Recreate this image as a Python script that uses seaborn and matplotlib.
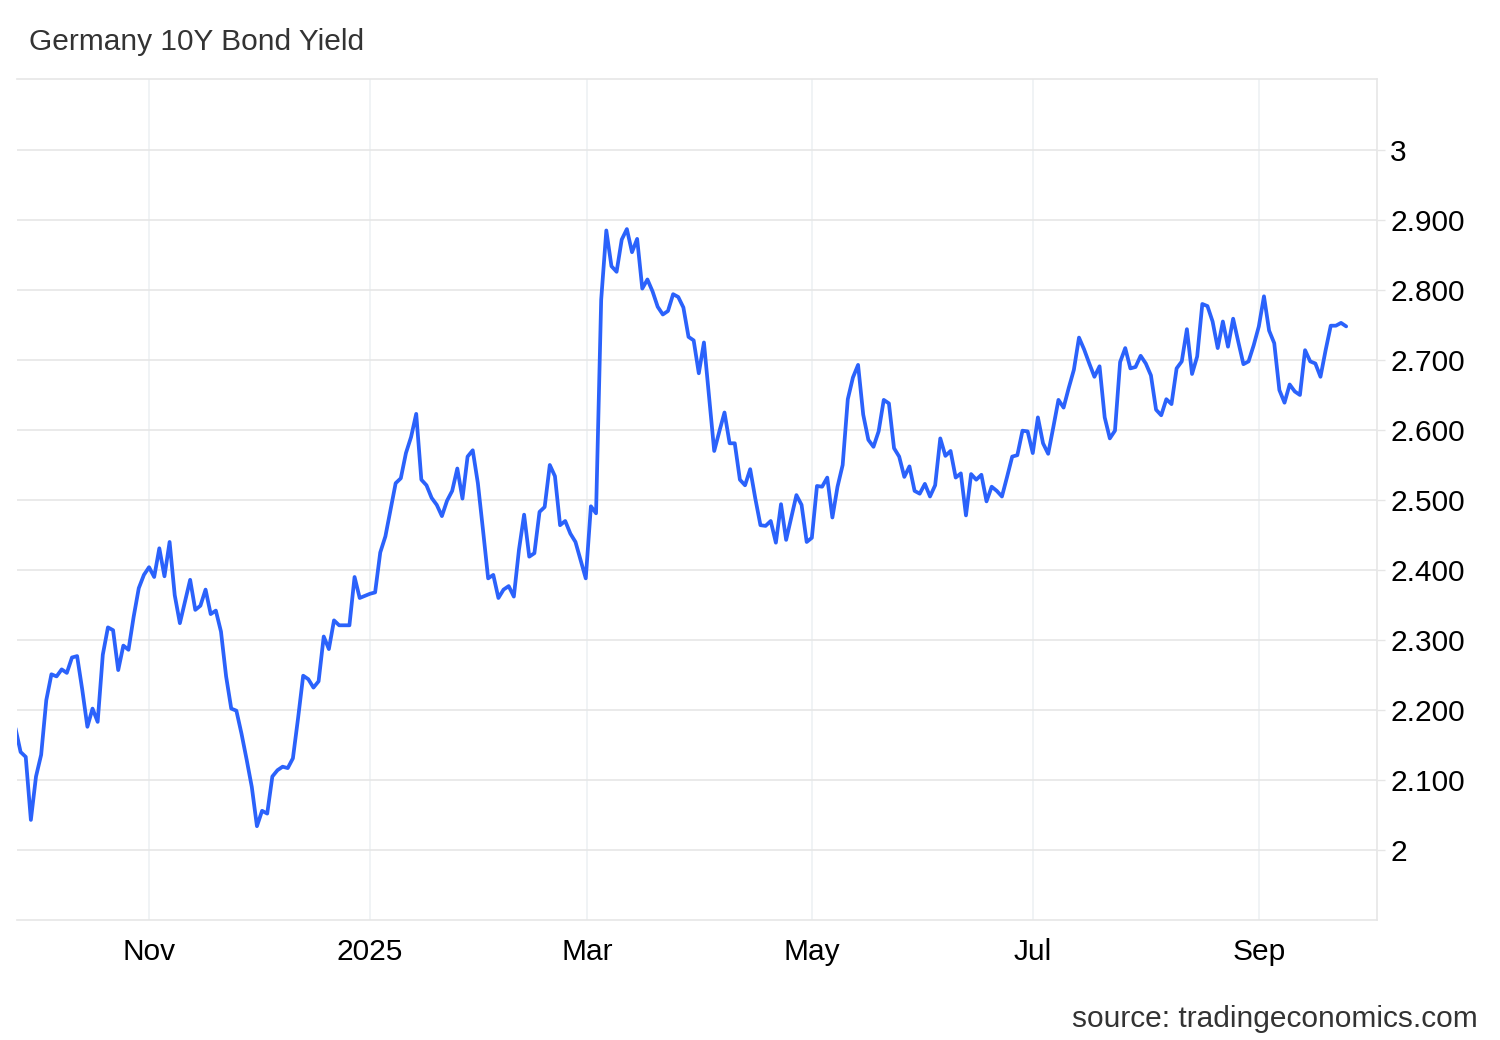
import matplotlib
matplotlib.use("Agg")
import matplotlib.pyplot as plt
import matplotlib.dates as mdates
import matplotlib.ticker as mticker
import numpy as np
import pandas as pd
import seaborn as sns

title = "Germany 10Y Bond Yield"
source = "source: tradingeconomics.com"
start_date = "2024-09-26"

yield_values = [
    2.174, 2.140, 2.133, 2.043, 2.105, 2.136, 2.214, 2.251, 2.248, 2.258,
    2.253, 2.275, 2.277, 2.229, 2.176, 2.202, 2.183, 2.279, 2.318, 2.314,
    2.257, 2.292, 2.286, 2.333, 2.374, 2.393, 2.404, 2.390, 2.431, 2.391,
    2.440, 2.364, 2.324, 2.355, 2.386, 2.343, 2.349, 2.372, 2.337, 2.342,
    2.312, 2.248, 2.202, 2.199, 2.166, 2.129, 2.090, 2.034, 2.056, 2.052,
    2.105, 2.114, 2.119, 2.117, 2.131, 2.188, 2.249, 2.244, 2.232, 2.241,
    2.305, 2.287, 2.328, 2.321, 2.321, 2.321, 2.390, 2.360, 2.363, 2.366,
    2.368, 2.425, 2.448, 2.486, 2.524, 2.531, 2.567, 2.590, 2.623, 2.529,
    2.521, 2.503, 2.493, 2.477, 2.499, 2.513, 2.545, 2.502, 2.562, 2.571,
    2.524, 2.457, 2.388, 2.393, 2.360, 2.372, 2.377, 2.362, 2.429, 2.479,
    2.419, 2.424, 2.483, 2.490, 2.550, 2.534, 2.464, 2.470, 2.452, 2.440,
    2.414, 2.388, 2.491, 2.481, 2.786, 2.885, 2.834, 2.826, 2.872, 2.887,
    2.854, 2.873, 2.802, 2.815, 2.798, 2.776, 2.765, 2.770, 2.794, 2.790,
    2.775, 2.733, 2.728, 2.681, 2.725, 2.648, 2.570, 2.598, 2.625, 2.581,
    2.581, 2.529, 2.521, 2.544, 2.502, 2.464, 2.463, 2.470, 2.439, 2.494,
    2.443, 2.475, 2.507, 2.493, 2.440, 2.446, 2.520, 2.519, 2.532, 2.475,
    2.519, 2.550, 2.644, 2.675, 2.693, 2.622, 2.586, 2.576, 2.598, 2.643,
    2.638, 2.574, 2.562, 2.533, 2.548, 2.513, 2.509, 2.523, 2.505, 2.521,
    2.588, 2.563, 2.570, 2.532, 2.538, 2.478, 2.537, 2.529, 2.536, 2.498,
    2.519, 2.513, 2.505, 2.533, 2.562, 2.564, 2.599, 2.598, 2.567, 2.618,
    2.581, 2.566, 2.604, 2.643, 2.632, 2.660, 2.686, 2.732, 2.715, 2.695,
    2.676, 2.691, 2.618, 2.588, 2.599, 2.697, 2.717, 2.688, 2.690, 2.706,
    2.695, 2.678, 2.629, 2.621, 2.644, 2.637, 2.688, 2.698, 2.744, 2.680,
    2.705, 2.780, 2.777, 2.755, 2.717, 2.755, 2.719, 2.759, 2.726, 2.694,
    2.698, 2.721, 2.748, 2.791, 2.742, 2.724, 2.657, 2.639, 2.665, 2.655,
    2.650, 2.714, 2.698, 2.695, 2.676, 2.714, 2.749, 2.749, 2.753, 2.748,
]

y_ticks = [2.0, 2.1, 2.2, 2.3, 2.4, 2.5, 2.6, 2.7, 2.8, 2.9, 3.0]
y_tick_labels = ["2", "2.100", "2.200", "2.300", "2.400", "2.500",
                 "2.600", "2.700", "2.800", "2.900", "3"]
x_tick_dates = ["2024-11-01", "2025-01-01", "2025-03-01",
                "2025-05-01", "2025-07-01", "2025-09-01"]
x_tick_labels = ["Nov", "2025", "Mar", "May", "Jul", "Sep"]

dates = pd.bdate_range(start_date, periods=len(yield_values))
session = np.arange(len(yield_values))
df = pd.DataFrame({"date": dates, "session": session, "yield": yield_values})

# month boundaries expressed on the trading-session axis
tick_pos = np.interp(mdates.date2num(pd.to_datetime(x_tick_dates)),
                     mdates.date2num(dates), session)

sns.set_theme(style="white")
plt.rcParams["font.family"] = ["Liberation Sans", "DejaVu Sans"]

fig = plt.figure(figsize=(15, 10.4), dpi=100)
ax = fig.add_axes([17 / 1500, 120 / 1040, 1360 / 1500, 841 / 1040])

sns.lineplot(data=df, x="session", y="yield", ax=ax, color="#2b62fb",
             linewidth=2.7, legend=False)

ax.set_xlim(0.3, 265.0)
ax.set_ylim(1.9, 3.1014)

ax.yaxis.tick_right()
ax.yaxis.set_major_locator(mticker.FixedLocator(y_ticks))
ax.yaxis.set_major_formatter(mticker.FixedFormatter(y_tick_labels))
ax.tick_params(axis="y", which="major", length=6, width=1, color="#e6e6e6",
               pad=3.5, labelsize=21.5, labelcolor="#000000", direction="out")

ax.xaxis.set_major_locator(mticker.FixedLocator(tick_pos))
ax.xaxis.set_major_formatter(mticker.FixedFormatter(x_tick_labels))
ax.tick_params(axis="x", which="major", length=0, pad=13, labelsize=21.5,
               labelcolor="#000000")

ax.grid(axis="y", color="#e6e6e6", linewidth=1.2)
ax.grid(axis="x", color="#eef1f4", linewidth=1.2)
ax.set_axisbelow(True)

ax.spines["left"].set_visible(False)
for side in ["top", "bottom", "right"]:
    ax.spines[side].set_visible(True)
    ax.spines[side].set_color("#e6e6e6")
    ax.spines[side].set_linewidth(1.2)

ax.set_xlabel("")
ax.set_ylabel("")

fig.text(29 / 1500, 1 - 42 / 1040, title, ha="left", va="center",
         fontsize=21.5, color="#333333")
fig.text(1478 / 1500, 1 - 1019 / 1040, source, ha="right", va="center",
         fontsize=21.5, color="#333333")

fig.savefig("out.png", dpi=100, facecolor="white")
